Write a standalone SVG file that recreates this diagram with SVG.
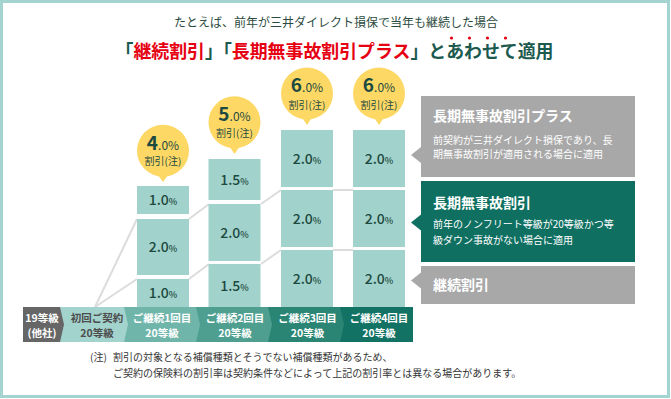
<svg xmlns="http://www.w3.org/2000/svg" width="671" height="399" viewBox="0 0 671 399">
<style>
text{font-family:"Noto Sans CJK JP","Noto Sans",sans-serif;}
.frame{fill:#fff;stroke:#a3d4cf;stroke-width:3}
.box{fill:#a2d2cc}
.bt{font-size:14px;fill:#1d4a40;text-anchor:middle;font-weight:500}
.bt tspan.p{font-size:9px}
.bub{fill:#fdd865}
.bn{font-size:19px;font-weight:bold;fill:#1d4a40;text-anchor:middle}
.bn tspan.s{font-size:12px;font-weight:normal}
.bl{font-size:10px;fill:#1d4a40;text-anchor:middle}
.ln{stroke:#dcdcdc;stroke-width:2;fill:none}
.st{font-size:10.5px;font-weight:bold;fill:#fff;text-anchor:middle}
.dk{fill:#4d4d4d}
.pt{font-size:14px;font-weight:bold;fill:#fff}
.pb{font-size:10px;fill:#fff}
.fn{font-size:10px;fill:#333}
</style>
<rect class="frame" x="1.5" y="1.5" width="667" height="395"/>

<g id="title">
<text x="336" y="27" font-size="12" fill="#2b4b40" text-anchor="middle">たとえば、前年が三井ダイレクト損保で当年も継続した場合</text>
<text x="334.5" y="58" font-size="17.9" font-weight="bold" fill="#1c5a4f" text-anchor="middle">「<tspan fill="#e60012">継続割引</tspan>」「<tspan fill="#e60012">長期無事故割引プラス</tspan>」とあわせて適用</text>
<g fill="#e60012"><circle cx="451.5" cy="38" r="1.6"/><circle cx="469.5" cy="38" r="1.6"/><circle cx="487.5" cy="38" r="1.6"/><circle cx="505.5" cy="38" r="1.6"/></g>
</g>

<g id="connectors">
<line class="ln" x1="95" y1="307" x2="137" y2="219"/>
<line class="ln" x1="95" y1="307" x2="137" y2="279"/>
<line class="ln" x1="189" y1="219" x2="209" y2="204"/>
<line class="ln" x1="189" y1="279" x2="209" y2="264"/>
<line class="ln" x1="261" y1="204" x2="281" y2="190"/>
<line class="ln" x1="261" y1="264" x2="281" y2="250"/>
<line class="ln" x1="333" y1="190" x2="353" y2="190"/>
<line class="ln" x1="333" y1="250" x2="353" y2="250"/>
</g>

<g id="col1">
<rect class="box" x="137" y="186" width="52" height="28"/>
<text class="bt" x="163" y="205">1.0<tspan class="p">%</tspan></text>
<rect class="box" x="137" y="219" width="52" height="56"/>
<text class="bt" x="163" y="252">2.0<tspan class="p">%</tspan></text>
<rect class="box" x="137" y="279" width="52" height="30"/>
<text class="bt" x="163" y="298">1.0<tspan class="p">%</tspan></text>
</g>
<g id="col2">
<rect class="box" x="208.5" y="159" width="52" height="41"/>
<text class="bt" x="234.5" y="185">1.5<tspan class="p">%</tspan></text>
<rect class="box" x="208.5" y="204" width="52" height="57"/>
<text class="bt" x="234.5" y="238">2.0<tspan class="p">%</tspan></text>
<rect class="box" x="208.5" y="264" width="52" height="45"/>
<text class="bt" x="234.5" y="291">1.5<tspan class="p">%</tspan></text>
</g>
<g id="col3">
<rect class="box" x="281" y="130" width="52" height="57"/>
<text class="bt" x="307" y="164">2.0<tspan class="p">%</tspan></text>
<rect class="box" x="281" y="190" width="52" height="57"/>
<text class="bt" x="307" y="224">2.0<tspan class="p">%</tspan></text>
<rect class="box" x="281" y="250" width="52" height="59"/>
<text class="bt" x="307" y="284">2.0<tspan class="p">%</tspan></text>
</g>
<g id="col4">
<rect class="box" x="353" y="130" width="52" height="57"/>
<text class="bt" x="379" y="164">2.0<tspan class="p">%</tspan></text>
<rect class="box" x="353" y="190" width="52" height="57"/>
<text class="bt" x="379" y="224">2.0<tspan class="p">%</tspan></text>
<rect class="box" x="353" y="250" width="52" height="59"/>
<text class="bt" x="379" y="284">2.0<tspan class="p">%</tspan></text>
</g>

<g id="bubble1">
<circle class="bub" cx="163" cy="150.7" r="26"/>
<polygon class="bub" points="158,175 168,175 163,182"/>
<text class="bn" x="163" y="149.5">4<tspan class="s">.0%</tspan></text>
<text class="bl" x="163" y="165">割引(注)</text>
</g>
<g id="bubble2">
<circle class="bub" cx="234.5" cy="122.3" r="26"/>
<polygon class="bub" points="229.5,146.5 239.5,146.5 234.5,154"/>
<text class="bn" x="234.5" y="121">5<tspan class="s">.0%</tspan></text>
<text class="bl" x="234.5" y="137">割引(注)</text>
</g>
<g id="bubble3">
<circle class="bub" cx="307" cy="93.5" r="26"/>
<polygon class="bub" points="302,117.5 312,117.5 307,125"/>
<text class="bn" x="307" y="92">6<tspan class="s">.0%</tspan></text>
<text class="bl" x="307" y="108.5">割引(注)</text>
</g>
<g id="bubble4">
<circle class="bub" cx="379" cy="93.5" r="26"/>
<polygon class="bub" points="374,117.5 384,117.5 379,125"/>
<text class="bn" x="379" y="92">6<tspan class="s">.0%</tspan></text>
<text class="bl" x="379" y="108.5">割引(注)</text>
</g>

<g id="steps">
<polygon fill="#127264" points="340,307 413,307 413,342 340,342"/>
<polygon fill="#2b8574" points="268,307 340,307 344,324.5 340,342 268,342"/>
<polygon fill="#4f9f90" points="196,307 268,307 272,324.5 268,342 196,342"/>
<polygon fill="#6fb5aa" points="124,307 196,307 200,324.5 196,342 124,342"/>
<polygon fill="#a3d3cd" points="60,307 124,307 128,324.5 124,342 60,342"/>
<polygon fill="#666666" points="23,307 60,307 64,324.5 60,342 23,342"/>
<text class="st" x="42" y="321.5">19等級</text>
<text class="st" x="42" y="336.5">(他社)</text>
<text class="st dk" x="97" y="321.5">初回ご契約</text>
<text class="st dk" x="97" y="336.5">20等級</text>
<text class="st" x="162" y="321.5">ご継続1回目</text>
<text class="st" x="162" y="336.5">20等級</text>
<text class="st" x="235" y="321.5">ご継続2回目</text>
<text class="st" x="235" y="336.5">20等級</text>
<text class="st" x="307.5" y="321.5">ご継続3回目</text>
<text class="st" x="307.5" y="336.5">20等級</text>
<text class="st" x="379" y="321.5">ご継続4回目</text>
<text class="st" x="379" y="336.5">20等級</text>
</g>

<g id="panel1">
<rect x="421" y="96" width="214" height="81" fill="#a8a8a8"/>
<polygon points="411,155 421,147 421,163" fill="#a8a8a8"/>
<text class="pt" x="433" y="121">長期無事故割引プラス</text>
<text class="pb" x="433" y="144">前契約が三井ダイレクト損保であり、長</text>
<text class="pb" x="433" y="158">期無事故割引が適用される場合に適用</text>
</g>
<g id="panel2">
<rect x="421" y="181" width="214" height="81" fill="#0f7062"/>
<polygon points="411,222.5 421,214.5 421,230.5" fill="#0f7062"/>
<text class="pt" x="433" y="208">長期無事故割引</text>
<text class="pb" x="433" y="228">前年のノンフリート等級が20等級かつ等</text>
<text class="pb" x="433" y="244">級ダウン事故がない場合に適用</text>
</g>
<g id="panel3">
<rect x="421" y="266" width="214" height="38" fill="#a8a8a8"/>
<polygon points="411,280.5 421,272.5 421,288.5" fill="#a8a8a8"/>
<text class="pt" x="433" y="290">継続割引</text>
</g>

<g id="footnote">
<text class="fn" x="90" y="361">(注)<tspan x="113">割引の対象となる補償種類とそうでない補償種類があるため、</tspan></text>
<text class="fn" x="113" y="377">ご契約の保険料の割引率は契約条件などによって上記の割引率とは異なる場合があります。</text>
</g>
</svg>
